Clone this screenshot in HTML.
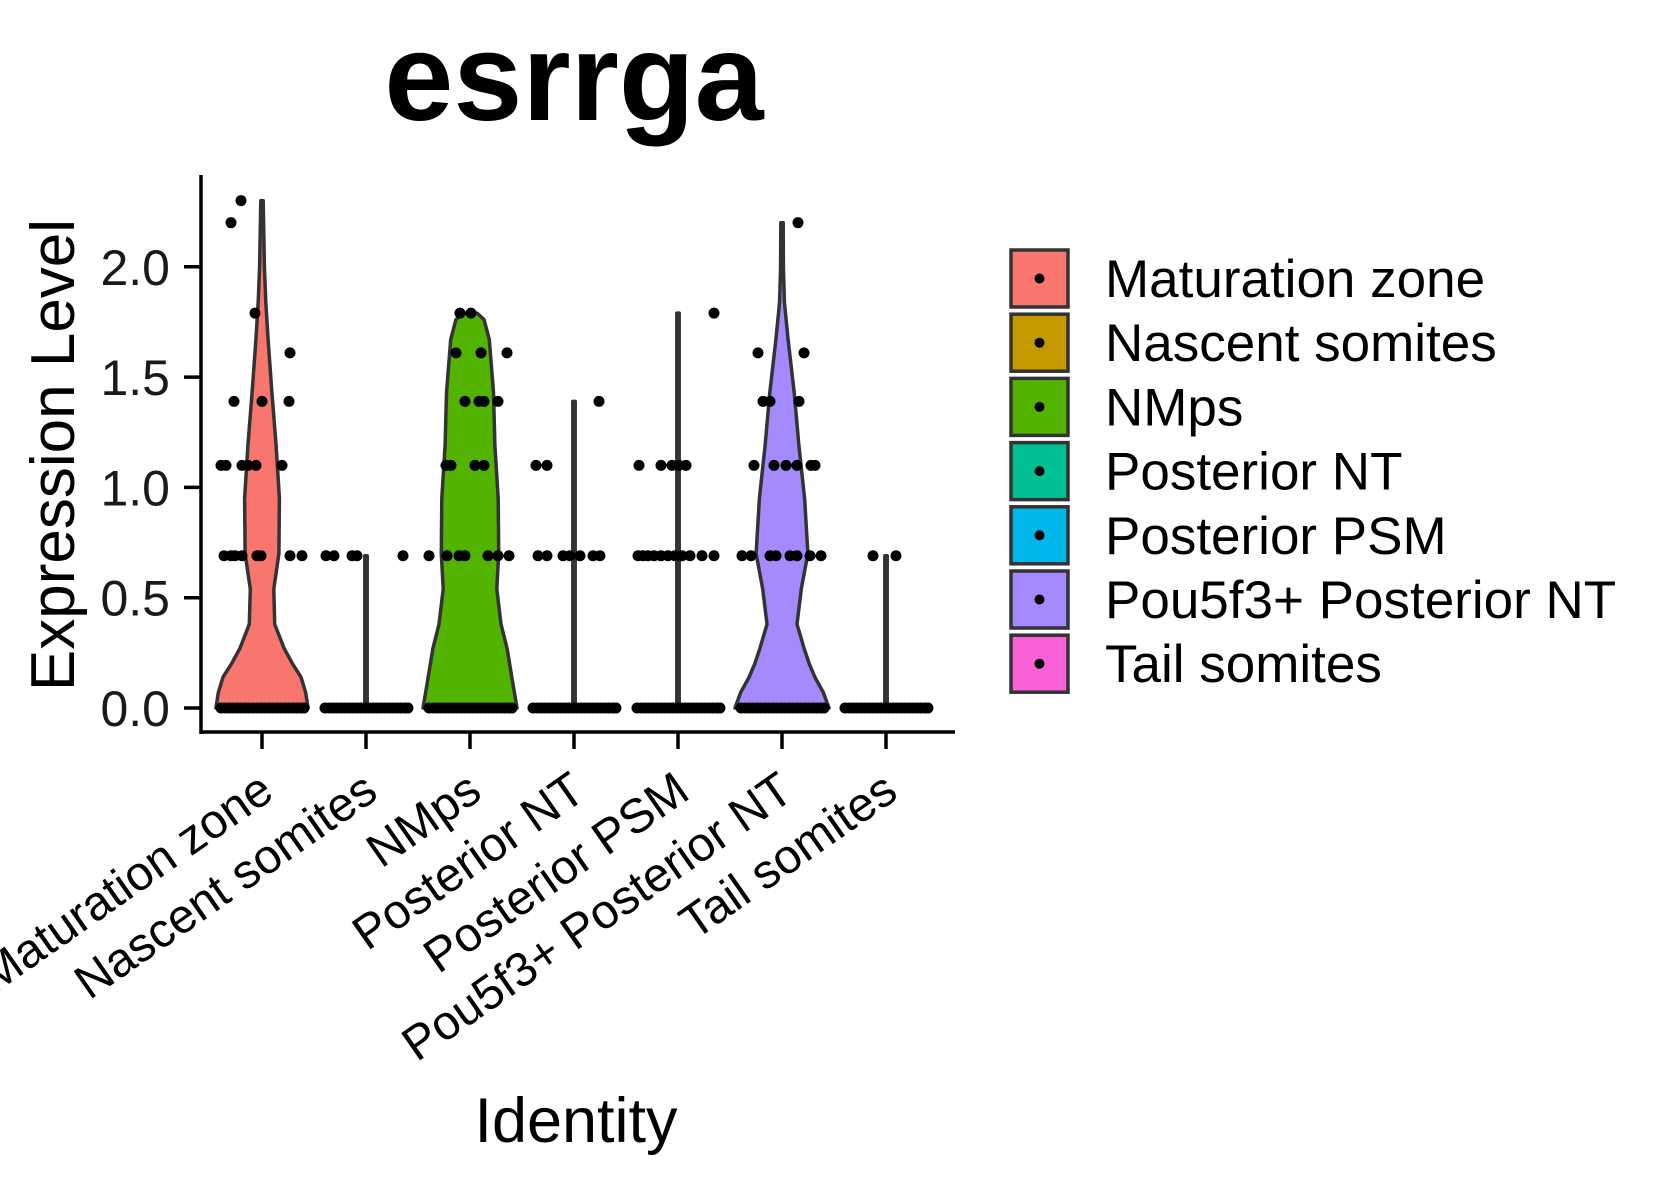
<!DOCTYPE html>
<html><head><meta charset="utf-8"><style>
html,body{margin:0;padding:0;background:#fff;}
svg{display:block;font-family:"Liberation Sans",Arial,sans-serif;}
</style></head><body>
<svg id="chart" width="1653" height="1181" viewBox="0 0 1653 1181">
<text x="574" y="120" font-size="124" font-weight="bold" text-anchor="middle">esrrga</text>
<g id="plot"></g>
<g id="axes"></g>
<g id="legend"></g>
<text x="576" y="1142" font-size="63" text-anchor="middle">Identity</text>
<text transform="translate(74,455) rotate(-90)" font-size="62" text-anchor="middle">Expression Level</text>
</svg>
<script>
const categories = ["Maturation zone","Nascent somites","NMps","Posterior NT","Posterior PSM","Pou5f3+ Posterior NT","Tail somites"];
const colors = ["#F8766D","#C49A00","#53B400","#00C094","#00B6EB","#A58AFF","#FB61D7"];
const yTicks = [0, 0.5, 1.0, 1.5, 2.0];
const yTickLabels = ["0.0","0.5","1.0","1.5","2.0"];
// violin density profiles: [value, relative half-width (0..1)]
const densMaturation = [[0,0.98],[0.07,0.93],[0.14,0.83],[0.2,0.65],[0.27,0.47],[0.38,0.27],[0.54,0.25],[0.70,0.36],[0.95,0.37],[1.19,0.30],[1.43,0.21],[1.67,0.13],[1.84,0.08],[2.0,0.05],[2.3,0.02]];
const densNascent = [[0,0.02],[0.69,0.02]];
const densNMps = [[0,1.0],[0.14,0.89],[0.27,0.79],[0.38,0.66],[0.54,0.57],[0.70,0.61],[0.95,0.60],[1.19,0.53],[1.43,0.50],[1.67,0.41],[1.76,0.30],[1.79,0.15]];
const densPostNT = [[0,0.02],[1.39,0.02]];
const densPSM = [[0,0.02],[1.79,0.02]];
const densPou = [[0,1.0],[0.07,0.88],[0.14,0.70],[0.2,0.58],[0.27,0.47],[0.38,0.32],[0.54,0.41],[0.70,0.55],[0.95,0.48],[1.19,0.36],[1.43,0.26],[1.67,0.13],[1.84,0.05],[2.0,0.03],[2.2,0.02]];
const densTail = [[0,0.02],[0.69,0.02]];
const densities = [densMaturation,densNascent,densNMps,densPostNT,densPSM,densPou,densTail];
// non-zero points per group: values and jitter (px)
const valsMaturation = [2.3,2.2,1.79,1.61,1.39,1.39,1.39,1.1,1.1,1.1,1.1,1.1,1.1,0.69,0.69,0.69,0.69,0.69,0.69,0.69,0.69];
const jitMaturation  = [-21,-31,-7,28,-28,0,27,-41,-36,-20,-14,-6,20,-38,-31,-27,-20,-5,-1,28,40];
const valsNascent = [0.69,0.69,0.69,0.69,0.69];
const jitNascent  = [-40,-32,-14,-9,37];
const valsNMps = [1.79,1.79,1.61,1.61,1.61,1.39,1.39,1.39,1.39,1.1,1.1,1.1,1.1,0.69,0.69,0.69,0.69,0.69,0.69,0.69];
const jitNMps  = [-10,1,-14,11,37,-5,9,14,28,-24,-19,5,14,-41,-23,-11,-5,18,28,39];
const valsPostNT = [1.39,1.1,1.1,0.69,0.69,0.69,0.69,0.69,0.69,0.69];
const jitPostNT  = [25,-38,-27,-36,-27,-11,-4,6,19,26];
const valsPSM = [1.79,1.1,1.1,1.1,1.1,1.1,0.69,0.69,0.69,0.69,0.69,0.69,0.69,0.69,0.69,0.69,0.69];
const jitPSM  = [36,-39,-17,-6,1,8,-40,-35,-30,-24,-17,-10,-3,4,12,24,36];
const valsPou = [2.2,1.61,1.61,1.39,1.39,1.39,1.1,1.1,1.1,1.1,1.1,1.1,0.69,0.69,0.69,0.69,0.69,0.69,0.69,0.69];
const jitPou  = [16,-24,22,-19,-12,17,-28,-8,4,15,29,33,-40,-31,-12,-6,8,15,28,39];
const valsTail = [0.69,0.69];
const jitTail  = [-13,10];
const groupVals = [valsMaturation,valsNascent,valsNMps,valsPostNT,valsPSM,valsPou,valsTail];
const groupJit = [jitMaturation,jitNascent,jitNMps,jitPostNT,jitPSM,jitPou,jitTail];
const zeroJitter = [-41,-37,-33,-29,-25,-21,-17,-13,-9,-5,-1,3,7,11,15,19,23,27,31,35,39,42];

const NS="http://www.w3.org/2000/svg";
const y0=708, yPerUnit=220.6, x0=262, xStep=104, maxHalf=47;
function yScale(v){return y0 - v*yPerUnit;}
function xScale(i){return x0 + i*xStep;}
function mk(tag,attrs,parent){const e=document.createElementNS(NS,tag);for(const k in attrs)e.setAttribute(k,attrs[k]);parent.appendChild(e);return e;}
const plot=document.getElementById('plot'), axes=document.getElementById('axes'), legend=document.getElementById('legend');

categories.forEach((c,i)=>{
  const cx=xScale(i), d=densities[i];
  let right=d.map(p=>(cx+Math.max(p[1]*maxHalf,1.2)).toFixed(1)+','+yScale(p[0]).toFixed(1));
  let left=d.slice().reverse().map(p=>(cx-Math.max(p[1]*maxHalf,1.2)).toFixed(1)+','+yScale(p[0]).toFixed(1));
  const poly=mk('polygon',{points:right.concat(left).join(' '),fill:colors[i],stroke:'#333',"stroke-width":3.5,"stroke-linejoin":"round"},plot);
  
  
  const g=mk('g',{},plot);
  
  
  zeroJitter.forEach(j=>{
    const dot=mk('circle',{cx:cx+j,cy:yScale(0),r:5.5,fill:'#000'},g);
    
    
  });
  groupVals[i].forEach((v,k)=>{
    const dot=mk('circle',{cx:cx+groupJit[i][k],cy:yScale(v),r:5.5,fill:'#000'},g);
    
    
  });
});

// axes
const yl=mk('line',{x1:201,y1:175,x2:201,y2:734,stroke:'#000',"stroke-width":3.5},axes);


const xl=mk('line',{x1:199.5,y1:732,x2:955,y2:732,stroke:'#000',"stroke-width":3.5},axes);


yTicks.forEach((t,k)=>{
  const y=yScale(t);
  const tk=mk('line',{x1:184,y1:y,x2:201,y2:y,stroke:'#000',"stroke-width":3.5},axes);
  
  
  const tx=mk('text',{x:170,y:y+18,"font-size":50,"text-anchor":"end",fill:'#1a1a1a'},axes);
  tx.textContent=yTickLabels[k];
  
  
});
categories.forEach((c,i)=>{
  const x=xScale(i);
  const tk=mk('line',{x1:x,y1:732,x2:x,y2:749,stroke:'#000',"stroke-width":3.5},axes);
  
  
  const tx=mk('text',{transform:`translate(${x+14},797) rotate(-35)`,"font-size":48,"text-anchor":"end",fill:'#000'},axes);
  tx.textContent=c;
  
  
});
// legend
categories.forEach((c,i)=>{
  const y=250+i*64.2;
  const g=mk('g',{},legend);
  
  
  const r=mk('rect',{x:1011,y:y,width:57,height:57,fill:colors[i],stroke:'#333',"stroke-width":3.5},g);
  
  
  const d=mk('circle',{cx:1039.5,cy:y+28.5,r:5,fill:'#000'},g);
  
  
  const t=mk('text',{x:1105,y:y+47,"font-size":53,fill:'#000'},g);
  t.textContent=c;
  
  
});
</script>
</body></html>
